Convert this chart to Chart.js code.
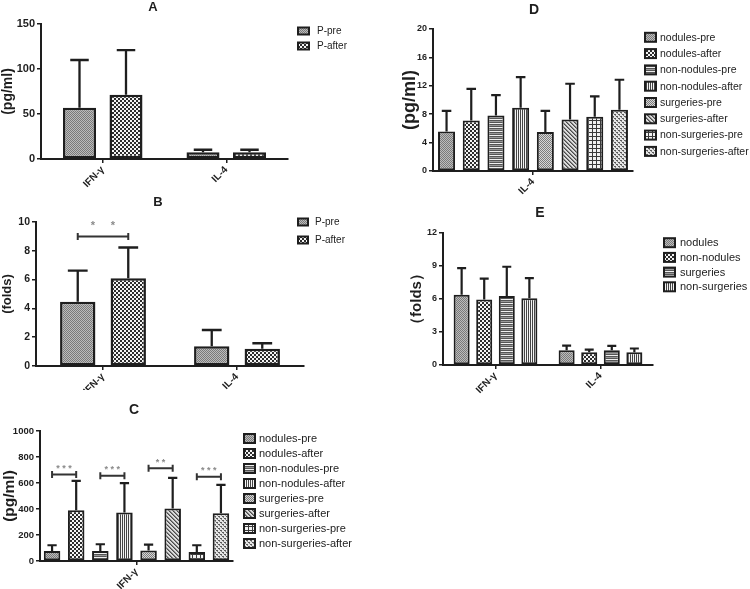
<!DOCTYPE html>
<html>
<head>
<meta charset="utf-8">
<script src="https://cdn.jsdelivr.net/npm/chart.js@4.4.0/dist/chart.umd.min.js"></script>
<style>
  body { margin: 0; background: #fff; width: 750px; height: 589px; position: relative; overflow: hidden; }
  canvas { position: absolute; }
</style>
</head>
<body>
<canvas id="chartA" width="380" height="192" style="left:0;top:0"></canvas>
<canvas id="chartB" width="380" height="198" style="left:0;top:192px"></canvas>
<canvas id="chartC" width="380" height="199" style="left:0;top:390px"></canvas>
<canvas id="chartD" width="370" height="200" style="left:380px;top:0"></canvas>
<canvas id="chartE" width="370" height="200" style="left:380px;top:200px"></canvas>
<script>
// ---- data ----
const catsAB = ['IFN-γ', 'IL-4'];
const namesAB = ['P-pre', 'P-after'];

// A: (pg/ml), mean and mean+SD
const aPre = [57, 7.4];
const aPreErr = [110, 10.3];
const aAfter = [71.5, 7.4];
const aAfterErr = [121, 10.3];

// B: (folds)
const bPre = [4.47, 1.37];
const bPreErr = [6.63, 2.5];
const bAfter = [6.1, 1.2];
const bAfterErr = [8.23, 1.58];
const bSigLevel = [9];
const bSigStars = [2];

// C: IFN-γ (pg/ml), eight groups
const groups8 = ['nodules-pre', 'nodules-after', 'non-nodules-pre', 'non-nodules-after',
  'surgeries-pre', 'surgeries-after', 'non-surgeries-pre', 'non-surgeries-after'];
const catsC = ['IFN-γ'];
const cVals = [77, 391, 77, 373, 80, 404, 69, 368];
const cErr = [121, 617, 129, 599, 126, 640, 121, 586];
const cSigLevel = [666, 655, 713, 648];
const cSigStars = [3, 3, 2, 3];

// D: IL-4 (pg/ml), eight groups
const catsD = ['IL-4'];
const dVals = [5.55, 7.1, 7.81, 8.9, 5.51, 7.25, 7.63, 8.62];
const dErr = [8.47, 11.58, 10.69, 13.23, 8.47, 12.29, 10.5, 12.85];

// E: (folds), four groups
const groups4 = ['nodules', 'non-nodules', 'surgeries', 'non-surgeries'];
const catsE = ['IFN-γ', 'IL-4'];
const eIFN = [6.39, 5.96, 6.27, 6.06];
const eIFNErr = [8.8, 7.86, 8.93, 7.89];
const eIL4 = [1.35, 1.16, 1.35, 1.16];
const eIL4Err = [1.77, 1.4, 1.74, 1.5];

// ---- look ----
const ink = '#1e1e1e';
const FONT = '"Liberation Sans", Arial, sans-serif';

function pattern(kind) {
  const c = document.createElement('canvas');
  const s = 4;
  c.width = c.height = s;
  const g = c.getContext('2d');
  const px = (x, y, col) => { g.fillStyle = col; g.fillRect(x, y, 1, 1); };
  if (kind == 'stipple') {
    g.fillStyle = '#bcbcbc'; g.fillRect(0, 0, s, s);
    for (let y = 0; y < s; y++) for (let x = 0; x < s; x++) if ((x + y) % 2 == 0) px(x, y, '#7a7a7a');
  } else if (kind == 'checker') {
    g.fillStyle = '#f4f4f4'; g.fillRect(0, 0, s, s);
    g.fillStyle = '#2c2c2c'; g.fillRect(0, 0, 2, 2); g.fillRect(2, 2, 2, 2);
  } else if (kind == 'hlines') {
    g.fillStyle = '#f0f0f0'; g.fillRect(0, 0, s, s);
    g.fillStyle = '#555'; g.fillRect(0, 0, s, 1); g.fillRect(0, 2, s, 1);
    g.fillStyle = '#999'; g.fillRect(0, 1, s, 1);
  } else if (kind == 'vlines') {
    g.fillStyle = '#f4f4f4'; g.fillRect(0, 0, s, s);
    g.fillStyle = '#444'; g.fillRect(0, 0, 1, s); g.fillRect(2, 0, 1, s);
  } else if (kind == 'fine') {
    g.fillStyle = '#d6d6d6'; g.fillRect(0, 0, s, s);
    for (let y = 0; y < s; y++) for (let x = 0; x < s; x++) if ((x + y) % 2 == 0) px(x, y, '#7c7c7c');
  } else if (kind == 'diag') {
    g.fillStyle = '#dcdcdc'; g.fillRect(0, 0, s, s);
    for (let i = 0; i < s; i++) { px(i, i, '#4a4a4a'); px((i + 1) % s, i, '#888'); }
  } else if (kind == 'grid') {
    g.fillStyle = '#f2f2f2'; g.fillRect(0, 0, s, s);
    g.fillStyle = '#3a3a3a'; g.fillRect(0, 0, s, 1); g.fillRect(0, 0, 1, s);
  } else {
    g.fillStyle = '#e6e6e6'; g.fillRect(0, 0, s, s);
    g.fillStyle = '#5a5a5a'; g.fillRect(0, 0, 2, 1); g.fillRect(2, 2, 2, 1);
    px(1, 1, '#888'); px(3, 3, '#888');
  }
  return g.createPattern(c, 'repeat');
}

const fills8 = ['stipple', 'checker', 'hlines', 'vlines', 'fine', 'diag', 'grid', 'fineGrid'].map(pattern);
const fills4 = ['stipple', 'checker', 'hlines', 'vlines'].map(pattern);
const fillsAB = ['stipple', 'checker'].map(pattern);

// error bars, significance brackets, panel letter and legend
const prismExtras = {
  id: 'prismExtras',
  afterDatasetsDraw(chart, args, o) {
    const ctx = chart.ctx;
    const y = chart.scales.y;
    ctx.save();
    ctx.strokeStyle = ink;
    ctx.lineWidth = o.errWidth || 2.3;
    chart.data.datasets.forEach((ds, i) => {
      chart.getDatasetMeta(i).data.forEach((bar, j) => {
        const top = y.getPixelForValue(ds.errUp[j]);
        const half = bar.width * 0.28;
        ctx.beginPath();
        ctx.moveTo(bar.x, bar.y);
        ctx.lineTo(bar.x, top);
        ctx.moveTo(bar.x - half, top);
        ctx.lineTo(bar.x + half, top);
        ctx.stroke();
      });
    });
    (o.brackets || []).forEach(b => {
      const x1 = chart.getDatasetMeta(b.from).data[b.cat].x;
      const x2 = chart.getDatasetMeta(b.to).data[b.cat].x;
      const yy = y.getPixelForValue(b.value);
      ctx.strokeStyle = '#333';
      ctx.lineWidth = 2;
      ctx.beginPath();
      ctx.moveTo(x1, yy); ctx.lineTo(x2, yy);
      ctx.moveTo(x1, yy - 3.5); ctx.lineTo(x1, yy + 3.5);
      ctx.moveTo(x2, yy - 3.5); ctx.lineTo(x2, yy + 3.5);
      ctx.stroke();
      ctx.fillStyle = '#8a8a8a';
      ctx.font = o.starFont;
      ctx.textAlign = 'center';
      ctx.textBaseline = 'middle';
      const mid = (x1 + x2) / 2;
      for (let k = 0; k < b.stars; k++) {
        ctx.fillText('*', mid + (k - (b.stars - 1) / 2) * o.starGap, yy - o.starLift);
      }
    });
    ctx.restore();
  },
  afterDraw(chart, args, o) {
    const ctx = chart.ctx;
    ctx.save();
    ctx.fillStyle = ink;
    ctx.font = 'bold ' + o.title.size + 'px ' + FONT;
    ctx.textAlign = 'center';
    ctx.textBaseline = 'middle';
    ctx.fillText(o.title.text, o.title.x, o.title.y);
    const lg = o.legend;
    ctx.font = lg.size + 'px ' + FONT;
    ctx.textAlign = 'left';
    chart.data.datasets.forEach((ds, i) => {
      const cy = lg.y + i * lg.step;
      ctx.fillStyle = ds.backgroundColor;
      ctx.fillRect(lg.x, cy - lg.h / 2, lg.w, lg.h);
      ctx.strokeStyle = ink;
      ctx.lineWidth = 2;
      ctx.strokeRect(lg.x, cy - lg.h / 2, lg.w, lg.h);
      ctx.fillStyle = '#222';
      ctx.fillText(ds.label, lg.textX, cy + 0.5);
    });
    ctx.restore();
  }
};

function buildChart(id, labels, datasets, o) {
  const ctx = document.getElementById(id);
  return new Chart(ctx, {
    type: 'bar',
    data: { labels: labels, datasets: datasets },
    options: {
      responsive: false,
      animation: false,
      devicePixelRatio: 1,
      layout: { padding: o.pad },
      datasets: {
        bar: {
          categoryPercentage: o.cat,
          barPercentage: o.bar,
          borderWidth: o.border,
          borderColor: ink,
          borderSkipped: false
        }
      },
      plugins: {
        legend: { display: false },
        tooltip: { enabled: false },
        prismExtras: o.extras
      },
      scales: {
        x: {
          grid: { offset: false, drawOnChartArea: false, color: ink, lineWidth: 1.5, tickLength: 4 },
          border: { color: ink, width: 2 },
          ticks: {
            color: ink,
            font: { family: FONT, size: 10, weight: 'bold' },
            minRotation: 45,
            maxRotation: 45,
            padding: 1
          },
          afterFit: s => { s.height = o.xH; }
        },
        y: {
          min: 0,
          max: o.max,
          ticks: {
            stepSize: o.step,
            color: ink,
            font: { family: FONT, size: o.tickSize, weight: 'bold' },
            padding: 2,
            callback: v => String(v)
          },
          grid: { drawOnChartArea: false, color: ink, lineWidth: 1.5, tickLength: 4 },
          border: { color: ink, width: 2 },
          title: {
            display: true,
            text: o.yTitle,
            color: ink,
            font: { family: FONT, size: o.yTitleSize, weight: 'bold' },
            padding: { top: 0, bottom: 0 }
          },
          afterFit: s => { s.width = o.yW; }
        }
      }
    },
    plugins: [prismExtras]
  });
}

// A
buildChart('chartA', catsAB, [
  { label: namesAB[0], data: aPre, errUp: aPreErr, backgroundColor: fillsAB[0] },
  { label: namesAB[1], data: aAfter, errUp: aAfterErr, backgroundColor: fillsAB[1] }
], {
  pad: { left: 0, top: 24, right: 92, bottom: 0 }, yW: 41, xH: 33,
  cat: 0.753, bar: 0.71, border: 2.5, max: 150, step: 50, tickSize: 11,
  yTitle: '(pg/ml)', yTitleSize: 14,
  extras: {
    title: { text: 'A', x: 153, y: 7, size: 13 },
    legend: { x: 298, y: 31, step: 15, w: 11, h: 7, textX: 317, size: 10 }
  }
});

// B
buildChart('chartB', catsAB, [
  { label: namesAB[0], data: bPre, errUp: bPreErr, backgroundColor: fillsAB[0] },
  { label: namesAB[1], data: bAfter, errUp: bAfterErr, backgroundColor: fillsAB[1] }
], {
  pad: { left: 0, top: 30, right: 76, bottom: 0 }, yW: 36, xH: 24,
  cat: 0.754, bar: 0.70, border: 2.5, max: 10, step: 2, tickSize: 10.5,
  yTitle: '(folds)', yTitleSize: 13,
  extras: {
    title: { text: 'B', x: 158, y: 10, size: 13 },
    legend: { x: 298, y: 30, step: 18, w: 10, h: 7, textX: 315, size: 10 },
    brackets: bSigLevel.map((v, k) => ({ from: 0, to: 1, cat: 0, value: v, stars: bSigStars[k] })),
    starFont: 'bold 11px ' + FONT, starGap: 20, starLift: 10
  }
});

// C
buildChart('chartC', catsC, groups8.map((g, i) => (
  { label: g, data: [cVals[i]], errUp: [cErr[i]], backgroundColor: fills8[i] }
)), {
  pad: { left: 0, top: 41, right: 147, bottom: 0 }, yW: 40, xH: 28,
  cat: 1.0, bar: 0.685, border: 2, max: 1000, step: 200, tickSize: 9.5,
  yTitle: '(pg/ml)', yTitleSize: 15.5,
  extras: {
    title: { text: 'C', x: 134, y: 20, size: 14 },
    legend: { x: 244, y: 48.5, step: 15, w: 11, h: 9, textX: 259, size: 11 },
    brackets: cSigLevel.map((v, k) => ({ from: 2 * k, to: 2 * k + 1, cat: 0, value: v, stars: cSigStars[k] })),
    starFont: 'bold 9px ' + FONT, starGap: 6, starLift: 6,
    errWidth: 2.2
  }
});

// D
buildChart('chartD', catsD, groups8.map((g, i) => (
  { label: g, data: [dVals[i]], errUp: [dErr[i]], backgroundColor: fills8[i] }
)), {
  pad: { left: 19, top: 29, right: 117, bottom: 0 }, yW: 34, xH: 29,
  cat: 0.988, bar: 0.69, border: 2, max: 20, step: 4, tickSize: 9,
  yTitle: '(pg/ml)', yTitleSize: 18,
  extras: {
    title: { text: 'D', x: 154, y: 10, size: 14 },
    legend: { x: 265, y: 37.3, step: 16.3, w: 11, h: 9, textX: 280, size: 10.5 },
    errWidth: 2.2
  }
});

// E
buildChart('chartE', catsE, groups4.map((g, i) => (
  { label: g, data: [eIFN[i], eIL4[i]], errUp: [eIFNErr[i], eIL4Err[i]], backgroundColor: fills4[i] }
)), {
  pad: { left: 28, top: 33, right: 97, bottom: 0 }, yW: 35, xH: 35,
  cat: 0.86, bar: 0.71, border: 2, max: 12, step: 3, tickSize: 9,
  yTitle: '（folds）', yTitleSize: 15,
  extras: {
    title: { text: 'E', x: 160, y: 13, size: 14 },
    legend: { x: 284, y: 42.7, step: 14.7, w: 11, h: 9, textX: 300, size: 11 },
    errWidth: 2.2
  }
});
</script>
</body>
</html>
